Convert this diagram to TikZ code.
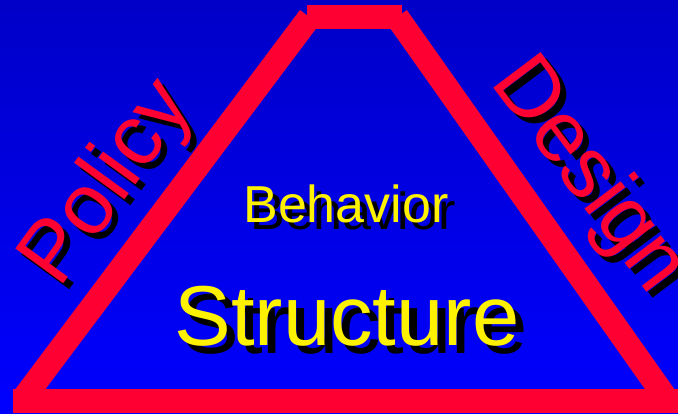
\documentclass[tikz,border=0pt]{standalone}
\usepackage{fontspec}
\setmainfont{Liberation Sans}

\definecolor{skytop}{RGB}{0,0,200}
\definecolor{skybot}{RGB}{0,0,255}
\definecolor{barred}{RGB}{255,0,51}

\tikzset{
  side/.style={draw=barred, line width=24pt, line cap=butt},
  bar/.style={fill=barred},
  word/.style={inner sep=0pt},
  shadowtxt/.style={word, text=black},
}

\begin{document}
\begin{tikzpicture}[x=1pt,y=-1pt]
            \useasboundingbox (0,0) rectangle (678,413);
            \shade[top color=skytop, bottom color=skybot] (0,0) rectangle (678,413);
            % the frame
            \coordinate (tl) at (309.6,17.2);
            \coordinate (bl) at (23,399);
            \coordinate (tr) at (397,17);
            \coordinate (br) at (668,401);
            \draw[side] (tl) -- (bl);
            \draw[side] (tr) -- (br);
            \fill[bar] (307,5) rectangle (402,29);
            \fill[bar] (13,389) rectangle (678,413);
            % side words
            \node[shadowtxt, rotate=54, font=\fontsize{86}{90}\selectfont] (pol-sh) at (109+6,184+6) {Policy};
            \node[word, text=barred, rotate=54, font=\fontsize{86}{90}\selectfont] (pol) at (109,184) {Policy};
            \node[shadowtxt, rotate=-53, font=\fontsize{86}{90}\selectfont] (des-sh) at (588+6,176+6) {Design};
            \node[word, text=barred, rotate=-53, font=\fontsize{86}{90}\selectfont] (des) at (588,176) {Design};
            % inner words
            \node[shadowtxt, anchor=base, font=\fontsize{52}{58}\selectfont] (beh-sh) at (346+7,222+7) {Behavior};
            \node[word, text=yellow, anchor=base, font=\fontsize{52}{58}\selectfont] (beh) at (346,222) {Behavior};
            \node[shadowtxt, anchor=base, font=\fontsize{85}{90}\selectfont] (str-sh) at (347+8,345+8) {Structure};
            \node[word, text=yellow, anchor=base, font=\fontsize{85}{90}\selectfont] (str) at (347,345) {Structure};
\end{tikzpicture}
\end{document}
